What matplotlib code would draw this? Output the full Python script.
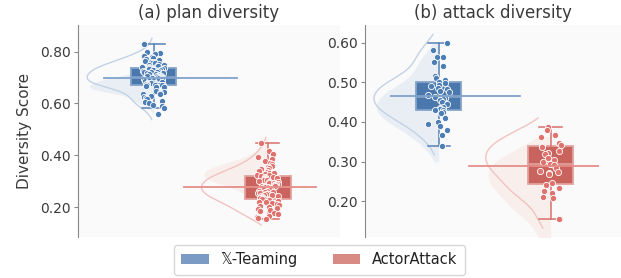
import numpy as np
import matplotlib
matplotlib.use("Agg")
import matplotlib.pyplot as plt
from matplotlib.patches import Patch

# ---------------- data ----------------
groups = ["X-Teaming", "ActorAttack"]
legend_labels = ["\U0001D54F-Teaming", "ActorAttack"]
titles = ["(a) plan diversity", "(b) attack diversity"]
ylabel = "Diversity Score"

plan_xteaming = [0.830, 0.800, 0.795, 0.790, 0.785, 0.780, 0.775, 0.770, 0.768, 0.765,
                 0.762, 0.760, 0.757, 0.755, 0.752, 0.750, 0.748, 0.745, 0.743, 0.741,
                 0.740, 0.738, 0.736, 0.735, 0.733, 0.731, 0.730, 0.728, 0.726, 0.725,
                 0.723, 0.721, 0.720, 0.718, 0.716, 0.715, 0.713, 0.711, 0.710, 0.708,
                 0.706, 0.705, 0.703, 0.702, 0.700, 0.698, 0.697, 0.695, 0.693, 0.692,
                 0.690, 0.688, 0.686, 0.685, 0.683, 0.681, 0.680, 0.678, 0.676, 0.675,
                 0.674, 0.673, 0.673, 0.672, 0.671, 0.671, 0.670, 0.668, 0.665, 0.662,
                 0.650, 0.646, 0.642, 0.638, 0.635, 0.630, 0.625, 0.620, 0.617, 0.610,
                 0.605, 0.600, 0.595, 0.590, 0.583, 0.560]
plan_actor = [0.447, 0.418, 0.405, 0.395, 0.385, 0.378, 0.370, 0.365, 0.360, 0.355,
              0.350, 0.346, 0.342, 0.338, 0.335, 0.332, 0.330, 0.327, 0.324, 0.322,
              0.320, 0.318, 0.316, 0.314, 0.312, 0.310, 0.308, 0.305, 0.303, 0.300,
              0.298, 0.296, 0.294, 0.292, 0.290, 0.288, 0.286, 0.284, 0.282, 0.280,
              0.278, 0.276, 0.274, 0.272, 0.270, 0.268, 0.266, 0.264, 0.262, 0.260,
              0.258, 0.256, 0.254, 0.252, 0.250, 0.248, 0.246, 0.244, 0.242, 0.240,
              0.236, 0.234, 0.232, 0.230, 0.227, 0.224, 0.221, 0.218, 0.215,
              0.212, 0.208, 0.204, 0.200, 0.196, 0.192, 0.188, 0.183, 0.178, 0.172,
              0.165, 0.161, 0.158, 0.153]
attack_xteaming = [0.599, 0.582, 0.565, 0.564, 0.551, 0.542, 0.515, 0.511, 0.506, 0.502,
                   0.498, 0.494, 0.490, 0.485, 0.483, 0.479, 0.475, 0.468, 0.464, 0.460,
                   0.457, 0.456, 0.451, 0.445, 0.439, 0.435, 0.432, 0.430, 0.429, 0.426,
                   0.422, 0.409, 0.401, 0.395, 0.390, 0.380, 0.367, 0.339]
attack_actor = [0.388, 0.380, 0.367, 0.363, 0.348, 0.346, 0.342, 0.339, 0.338, 0.327,
                0.322, 0.319, 0.308, 0.304, 0.300, 0.295, 0.291, 0.283, 0.277, 0.274,
                0.272, 0.268, 0.245, 0.241, 0.232, 0.226, 0.221, 0.211, 0.207, 0.156,
                0.154]

panels = [[plan_xteaming, plan_actor], [attack_xteaming, attack_actor]]
yticks = [[0.20, 0.40, 0.60, 0.80], [0.20, 0.30, 0.40, 0.50, 0.60]]
ylims = [(0.084, 0.903), (0.109, 0.645)]

# ---------------- style ----------------
box_fill = ["#4a78ad", "#c9635e"]
box_edge = ["#84a3c9", "#e3a29e"]
whisk_col = ["#5681b5", "#d9706b"]
pt_col = ["#4d7db5", "#e0716c"]
mean_col = ["#7fa2cb", "#e58e89"]
kde_line = ["#c2d2e5", "#f2c3bf"]
kde_fill = ["#e6edf5", "#f8ecea"]
legend_col = ["#7b9bc5", "#d88a84"]
fill_shift = [[-0.035, 0.05], [-0.02, -0.045]]
fill_scale = [[0.6, 0.7], [1.0, 1.0]]
mean_span = [(-0.43, 0.73), (-0.73, 0.42)]
txt = "#3a3a3a"

plt.rcParams['font.family'] = ['DejaVu Sans', 'Noto Sans']

fig = plt.figure(figsize=(6.21, 2.78), dpi=100)
axes = [fig.add_axes([0.1256, 0.147, 0.4219, 0.763]),
        fig.add_axes([0.5878, 0.147, 0.4122, 0.763])]

rng = np.random.default_rng(3)


def kde(data, grid):
    d = np.asarray(data)
    bw = d.std(ddof=1) * len(d) ** (-0.2)
    z = (grid[:, None] - d[None, :]) / bw
    return np.exp(-0.5 * z ** 2).sum(axis=1)


for pi, ax in enumerate(axes):
    ax.set_facecolor("#fafafa")
    for gi, data in enumerate(panels[pi]):
        d = np.asarray(data)
        pos = gi
        # half-violin cloud (filled, narrower variant)
        df = d.mean() + (d - d.mean()) * fill_scale[pi][gi] + fill_shift[pi][gi]
        gf = np.linspace(df.min() - 0.02, df.max() + 0.02, 300)
        densf = kde(df, gf)
        densf = densf / densf.max() * 0.56
        ax.fill_betweenx(gf, pos - densf, pos, color=kde_fill[gi],
                         alpha=0.85, lw=0, zorder=1)
        # density outline
        grid = np.linspace(d.min() - 0.022, d.max() + 0.022, 300)
        dens = kde(d, grid)
        dens = dens / dens.max() * 0.58
        ax.plot(pos - dens, grid, color=kde_line[gi], lw=1.0, zorder=2)
        # box
        bp = ax.boxplot([d], positions=[pos], widths=0.4, patch_artist=True,
                        showfliers=False, whis=1.5, manage_ticks=False,
                        boxprops=dict(facecolor=box_fill[gi], edgecolor=box_edge[gi], linewidth=1.3),
                        whiskerprops=dict(color=whisk_col[gi], linewidth=1.1),
                        capprops=dict(color=whisk_col[gi], linewidth=1.1),
                        medianprops=dict(color=box_edge[gi], linewidth=1.2),
                        capwidths=0.2)
        for k in bp:
            for a in bp[k]:
                a.set_zorder(3)
        # strip points
        xj = pos + rng.uniform(-0.1, 0.1, len(d))
        ax.scatter(xj, d, s=20, color=pt_col[gi], edgecolor="white",
                   linewidth=0.6, zorder=4)
        # mean line
        m = d.mean()
        ax.plot([pos + mean_span[gi][0], pos + mean_span[gi][1]], [m, m],
                color=mean_col[gi], lw=1.3, zorder=5)

    ax.set_xlim(-0.66, 1.63)
    ax.set_ylim(*ylims[pi])
    ax.set_yticks(yticks[pi])
    ax.set_yticklabels([f"{v:.2f}" for v in yticks[pi]], fontsize=10, color=txt)
    ax.set_xticks([])
    for s in ["top", "right", "bottom"]:
        ax.spines[s].set_visible(False)
    ax.spines["left"].set_color("#888888")
    ax.tick_params(axis="y", length=3, color="#888888", pad=2)
    ax.set_title(titles[pi], fontsize=12, color=txt, pad=5)

axes[0].set_ylabel(ylabel, fontsize=11, color=txt, labelpad=6)

handles = [Patch(facecolor=legend_col[i], edgecolor="none", label=legend_labels[i])
           for i in range(2)]
fig.legend(handles=handles, loc="upper center", bbox_to_anchor=(0.514, 0.119),
           ncol=2, fontsize=10.5, frameon=True, edgecolor="#cccccc",
           columnspacing=2.4, handlelength=1.9, handletextpad=0.8,
           labelcolor="#222222", borderpad=0.5, borderaxespad=0)

fig.savefig("out.png", dpi=100)
